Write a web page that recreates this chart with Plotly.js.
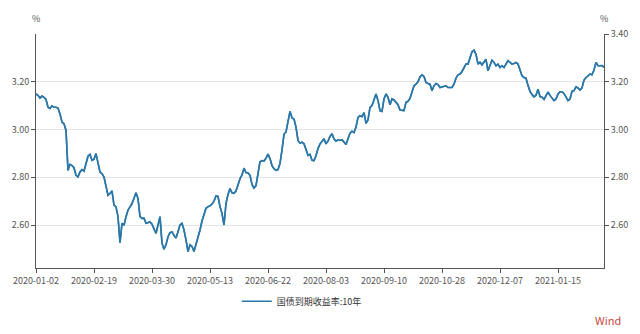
<!DOCTYPE html>
<html>
<head>
<meta charset="utf-8">
<script src="https://cdn.plot.ly/plotly-3.0.1.min.js"></script>
<style>
  html, body { margin: 0; padding: 0; background: #ffffff; }
  #chart { width: 640px; height: 334px; }
</style>
</head>
<body>
<div id="chart"></div>
<script>
// China government bond yield to maturity, 10Y (%), trading days 2020-01-02 .. 2021-02
const seriesName = "国债到期收益率:10年";

const yields = [
  3.149, 3.143, 3.132, 3.140, 3.135, 3.126, 3.093, 3.088, 3.099, 3.093,
  3.093, 3.090, 3.065, 3.031, 3.024, 2.996, 2.829, 2.854, 2.849, 2.840,
  2.808, 2.801, 2.822, 2.832, 2.826, 2.857, 2.888, 2.896, 2.871, 2.876,
  2.899, 2.860, 2.822, 2.815, 2.801, 2.763, 2.725, 2.732, 2.743, 2.683,
  2.676, 2.635, 2.526, 2.607, 2.599, 2.635, 2.663, 2.676, 2.690, 2.712,
  2.735, 2.711, 2.635, 2.628, 2.629, 2.607, 2.610, 2.613, 2.604, 2.586,
  2.565, 2.600, 2.635, 2.524, 2.499, 2.517, 2.551, 2.568, 2.571, 2.557,
  2.546, 2.572, 2.600,
  2.607, 2.579, 2.538, 2.489, 2.517, 2.510, 2.489, 2.517, 2.551, 2.579,
  2.617, 2.642, 2.670, 2.677, 2.680, 2.688, 2.700, 2.722, 2.720, 2.677,
  2.649, 2.600, 2.690, 2.728, 2.753, 2.735, 2.733, 2.742, 2.771, 2.794,
  2.810, 2.838, 2.820, 2.818, 2.808, 2.770, 2.755, 2.765, 2.815, 2.865,
  2.870, 2.868, 2.880, 2.897, 2.878, 2.849, 2.836, 2.829, 2.832, 2.858,
  2.914, 2.980, 2.990, 3.038, 3.076, 3.048, 3.044, 3.010, 2.954, 2.943,
  2.947, 2.940, 2.913, 2.892, 2.896, 2.871, 2.870, 2.890, 2.920, 2.940,
  2.950,
  2.961, 2.940, 2.951, 2.971, 2.982, 2.961, 2.951, 2.957, 2.954, 2.957,
  2.947, 2.937, 2.961, 2.985, 2.993, 2.987, 3.010, 3.051, 3.058, 3.054,
  3.071, 3.026, 3.040, 3.093, 3.100, 3.121, 3.149, 3.121, 3.079, 3.076,
  3.128, 3.149, 3.135, 3.104, 3.128, 3.124, 3.114, 3.104, 3.082, 3.079,
  3.079, 3.114, 3.118, 3.130, 3.155, 3.183, 3.190, 3.200, 3.220, 3.229,
  3.222, 3.197, 3.193, 3.190, 3.163, 3.183, 3.193, 3.188, 3.176, 3.179,
  3.183, 3.183, 3.176, 3.176, 3.176, 3.190, 3.215, 3.229, 3.232, 3.243,
  3.260, 3.274,
  3.274, 3.301, 3.326, 3.332, 3.315, 3.274, 3.282, 3.271, 3.281, 3.294,
  3.246, 3.267, 3.290, 3.281, 3.267, 3.274, 3.260, 3.267, 3.260, 3.274,
  3.288, 3.281, 3.274, 3.276, 3.281, 3.274, 3.250, 3.225, 3.218, 3.215,
  3.185, 3.160, 3.147, 3.137, 3.143, 3.169, 3.138, 3.135, 3.126, 3.143,
  3.157, 3.143, 3.132, 3.121, 3.128, 3.149, 3.158, 3.158, 3.151, 3.135,
  3.121, 3.128, 3.160, 3.163, 3.179, 3.174, 3.165, 3.174, 3.207, 3.218,
  3.225, 3.232, 3.229, 3.249, 3.281, 3.267, 3.267, 3.268, 3.260
];

const tickLabels = ["2020-01-02", "2020-02-19", "2020-03-30", "2020-05-13", "2020-06-22",
                    "2020-08-03", "2020-09-10", "2020-10-28", "2020-12-07", "2021-01-15"];
const tickIndex = [0, 29, 58, 87, 116, 145, 174, 203, 232, 261];

const leftTicks = [2.6, 2.8, 3.0, 3.2];
const rightTicks = [2.6, 2.8, 3.0, 3.2, 3.4];

const xIdx = yields.map((_, i) => i);

const FONT = "'Noto Sans CJK SC', 'Noto Sans', sans-serif";
const lineColor = "#2b78a8";

const traces = [
  {
    x: xIdx, y: yields, type: "scatter", mode: "lines", name: seriesName,
    line: { color: lineColor, width: 1.6 }, yaxis: "y", hoverinfo: "skip"
  },
  {
    x: xIdx, y: yields, type: "scatter", mode: "lines", name: seriesName,
    line: { color: lineColor, width: 1.6 }, yaxis: "y2", showlegend: false, hoverinfo: "skip"
  }
];

const layout = {
  width: 640, height: 334,
  margin: { l: 36, r: 36, t: 34, b: 66 },
  paper_bgcolor: "#ffffff", plot_bgcolor: "#ffffff",
  font: { family: FONT, size: 9, color: "#555555" },
  showlegend: true,
  legend: {
    orientation: "h", x: 0.468, xanchor: "center", y: -0.142, yanchor: "middle",
    itemwidth: 30,
    font: { family: FONT, size: 9, color: "#333333" }, bgcolor: "rgba(0,0,0,0)"
  },
  xaxis: {
    range: [0, yields.length - 1],
    tickmode: "array", tickvals: tickIndex, ticktext: tickLabels,
    ticks: "outside", ticklen: 4, tickcolor: "#555555",
    showline: true, linecolor: "#555555", linewidth: 1,
    showgrid: false, zeroline: false,
    tickfont: { family: FONT, size: 9, color: "#555555" }
  },
  yaxis: {
    range: [2.42, 3.40],
    tickmode: "array", tickvals: leftTicks, ticktext: leftTicks.map(v => v.toFixed(2)),
    ticks: "outside", ticklen: 4, tickcolor: "#555555",
    showline: true, linecolor: "#555555", linewidth: 1,
    showgrid: true, gridcolor: "#e4e4e4", gridwidth: 1, zeroline: false,
    tickfont: { family: FONT, size: 9, color: "#555555" }
  },
  yaxis2: {
    range: [2.42, 3.40], overlaying: "y", side: "right",
    tickmode: "array", tickvals: rightTicks, ticktext: rightTicks.map(v => v.toFixed(2)),
    ticks: "outside", ticklen: 4, tickcolor: "#555555",
    showline: true, linecolor: "#555555", linewidth: 1,
    showgrid: true, gridcolor: "#e4e4e4", gridwidth: 1, zeroline: false,
    tickfont: { family: FONT, size: 9, color: "#555555" }
  },
  annotations: [
    { text: "%", xref: "paper", yref: "paper", x: 0, y: 1.068, xanchor: "center", yanchor: "middle",
      showarrow: false, font: { family: FONT, size: 9, color: "#555555" } },
    { text: "%", xref: "paper", yref: "paper", x: 1, y: 1.068, xanchor: "center", yanchor: "middle",
      showarrow: false, font: { family: FONT, size: 9, color: "#555555" } },
    { text: "Wind", xref: "paper", yref: "paper", x: 1.007, y: -0.222, xanchor: "center", yanchor: "middle",
      showarrow: false, font: { family: FONT, size: 11, color: "#c9473f" } }
  ]
};

Plotly.newPlot("chart", traces, layout, { displayModeBar: false, staticPlot: true });
</script>
</body>
</html>
